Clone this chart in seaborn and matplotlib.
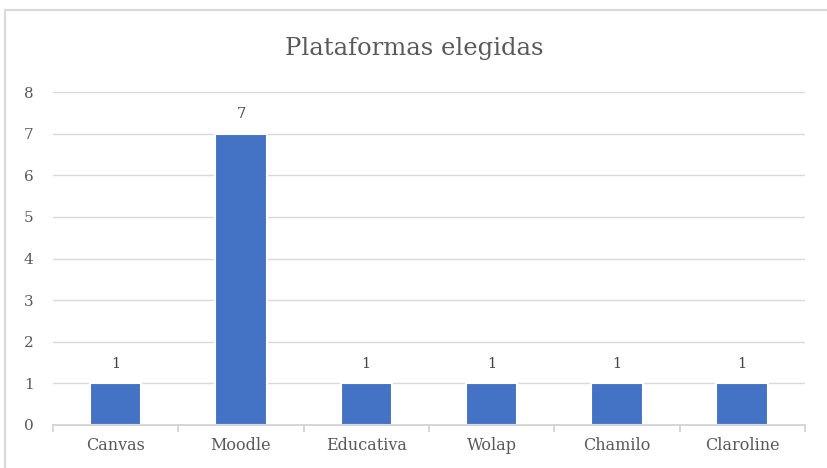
import matplotlib
matplotlib.use('Agg')
import matplotlib.pyplot as plt
import matplotlib.patches as patches
import seaborn as sns
import pandas as pd

plataformas = ['Canvas', 'Moodle', 'Educativa', 'Wolap', 'Chamilo', 'Claroline']
cantidad = [1, 7, 1, 1, 1, 1]
yticks = [0, 1, 2, 3, 4, 5, 6, 7, 8]

df = pd.DataFrame({'plataforma': plataformas, 'cantidad': cantidad})

sns.set_style('white')
plt.rcParams['font.family'] = ['DejaVu Serif']

fig = plt.figure(figsize=(8.28, 4.68), dpi=100)
ax = fig.add_axes([0.064, 0.092, 0.908, 0.711])

sns.barplot(data=df, x='plataforma', y='cantidad', color='#4472C4', width=0.41,
            edgecolor='white', linewidth=1.5, saturation=1, ax=ax, zorder=3)

for i, v in enumerate(cantidad):
    ax.text(i, v + 0.3, str(v), ha='center', va='bottom', fontsize=10.5, color='#404040')

ax.set_ylim(0, 8)
ax.set_xlim(-0.5, len(plataformas) - 0.5)
ax.set_yticks(yticks)
ax.yaxis.grid(True, color='#D9D9D9', linewidth=1, zorder=0)
ax.set_axisbelow(True)
for s in ['top', 'right', 'left']:
    ax.spines[s].set_visible(False)
ax.spines['bottom'].set_color('#D0D0D0')
ax.spines['bottom'].set_linewidth(1.2)
ax.spines['bottom'].set_zorder(4)

# small separator ticks between categories, like Excel
ax.set_xticks([i - 0.5 for i in range(len(plataformas) + 1)], minor=True)
ax.tick_params(axis='x', which='minor', bottom=True, length=5, color='#D0D0D0', width=1.2, direction='out')
ax.tick_params(axis='x', which='major', length=0, pad=9, labelsize=11.5, labelcolor='#595959')
ax.tick_params(axis='y', length=0, pad=14, labelsize=11, labelcolor='#595959')
ax.set_xlabel('')
ax.set_ylabel('')

fig.text(0.5, 0.897, 'Plataformas elegidas', ha='center', va='center', fontsize=17.5, color='#595959')

frame = patches.Rectangle((5 / 828, -0.02), 1.0, 1 - 10 / 468 + 0.02, transform=fig.transFigure,
                          fill=False, edgecolor='#D9D9D9', linewidth=1.5)
fig.patches.append(frame)

fig.savefig('out.png', dpi=100)
